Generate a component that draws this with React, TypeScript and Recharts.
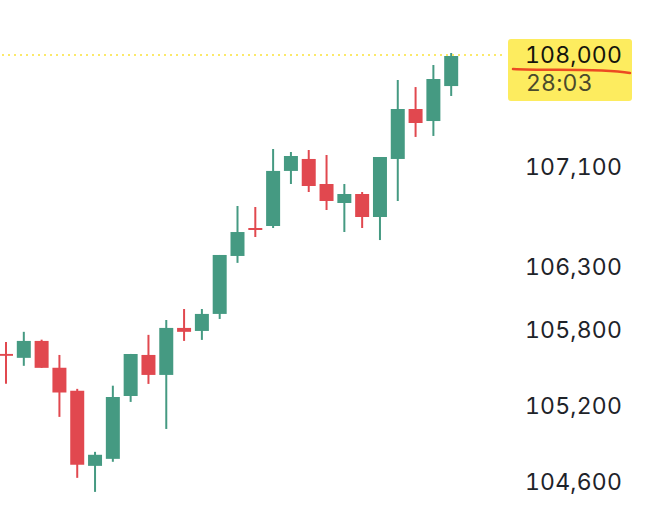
import React from 'react';
import { Bar, BarChart, Cell, ReferenceLine, XAxis, YAxis } from 'recharts';

const candleIds = [
  'c01', 'c02', 'c03', 'c04', 'c05', 'c06', 'c07', 'c08', 'c09', 'c10', 'c11', 'c12', 'c13',
  'c14', 'c15', 'c16', 'c17', 'c18', 'c19', 'c20', 'c21', 'c22', 'c23', 'c24', 'c25', 'c26',
];
const opens = [
  105608, 105577, 105711, 105498, 105318, 104726, 104781, 105276, 105600, 105442, 105814, 105790, 105925,
  106386, 106609, 106625, 107066, 107162, 106961, 106809, 106881, 106697, 107162, 107564, 107467, 107749,
];
const highs = [
  105703, 105783, 105721, 105600, 105332, 104836, 105357, 105608, 105759, 105877, 105964, 105964, 106394,
  106785, 106777, 107242, 107218, 107234, 107194, 106961, 106897, 107178, 107798, 107741, 107919, 108016,
];
const lows = [
  105373, 105514, 105498, 105111, 104632, 104522, 104758, 105229, 105371, 105016, 105711, 105719, 105885,
  106331, 106537, 106609, 106961, 106897, 106753, 106577, 106609, 106513, 106825, 107339, 107347, 107669,
];
const closes = [
  105593, 105711, 105498, 105303, 104734, 104813, 105268, 105608, 105442, 105814, 105783, 105925, 106394,
  106577, 106593, 107066, 107186, 106945, 106825, 106881, 106697, 107178, 107564, 107451, 107806, 107992,
];
const priceTicks = [104600, 105200, 105800, 106300, 107100, 108000];
const lastPrice = 108000;
const countdown = '28:03';

const GREEN = '#459a82';
const RED = '#e1484f';
const FONT = 'Inter, "Noto Sans", sans-serif';
const TEXT_STYLE = { fontVariantNumeric: 'tabular-nums', letterSpacing: '0.2px' };

const data = candleIds.map((id, i) => ({
  id,
  body: [opens[i], closes[i]],
  wick: [lows[i], highs[i]],
  up: closes[i] >= opens[i],
}));

// right axis label, the last price gets the highlighted box with the countdown
function PriceTick({ x, y, payload }: any) {
  const label = payload.value.toLocaleString('en-US');
  if (payload.value !== lastPrice) {
    return (
      <text x={x + 112} y={y} dy={8} textAnchor="end" fontFamily={FONT} fontSize={23} fill="#1e2329" style={TEXT_STYLE}>
        {label}
      </text>
    );
  }
  return (
    <g>
      <rect x={x - 2} y={y - 16} width={124} height={62} rx={3} fill="#fdec5f" />
      <text x={x + 112} y={y} dy={8} textAnchor="end" fontFamily={FONT} fontSize={23} fill="#14140c" style={TEXT_STYLE}>
        {label}
      </text>
      <text x={x + 16} y={y + 28} dy={8} fontFamily={FONT} fontSize={23} fill="#4b4a2c" style={TEXT_STYLE}>
        {countdown}
      </text>
      <path
        d={`M${x + 3} ${y + 14} C${x + 37} ${y + 16} ${x + 87} ${y + 13} ${x + 120} ${y + 18}`}
        fill="none"
        stroke="#ec4a22"
        strokeWidth={2.5}
        strokeLinecap="round"
      />
    </g>
  );
}

export default function App() {
  return (
    <div style={{ position: 'absolute', left: 0, top: 0, width: 648, height: 514, background: '#fff' }}>
      <BarChart width={648} height={514} data={data} margin={{ top: 0, right: 0, bottom: 0, left: -3 }}>
        <XAxis xAxisId="wick" dataKey="id" hide padding={{ left: 0, right: 42 }} />
        <XAxis xAxisId="body" dataKey="id" hide padding={{ left: 0, right: 42 }} />
        <YAxis
          orientation="right"
          type="number"
          scale="log"
          domain={[104349, 108446]}
          allowDataOverflow
          ticks={priceTicks}
          interval={0}
          width={146}
          axisLine={false}
          tickLine={false}
          tick={<PriceTick />}
        />
        <ReferenceLine xAxisId="wick" y={lastPrice} stroke="#fbe96a" strokeWidth={2} strokeDasharray="2 4" />
        <Bar xAxisId="wick" dataKey="wick" barSize={2} isAnimationActive={false}>
          {data.map((d) => (
            <Cell key={d.id} fill={d.up ? GREEN : RED} />
          ))}
        </Bar>
        <Bar xAxisId="body" dataKey="body" barSize={14} isAnimationActive={false}>
          {data.map((d) => (
            <Cell key={d.id} fill={d.up ? GREEN : RED} />
          ))}
        </Bar>
      </BarChart>
    </div>
  );
}
